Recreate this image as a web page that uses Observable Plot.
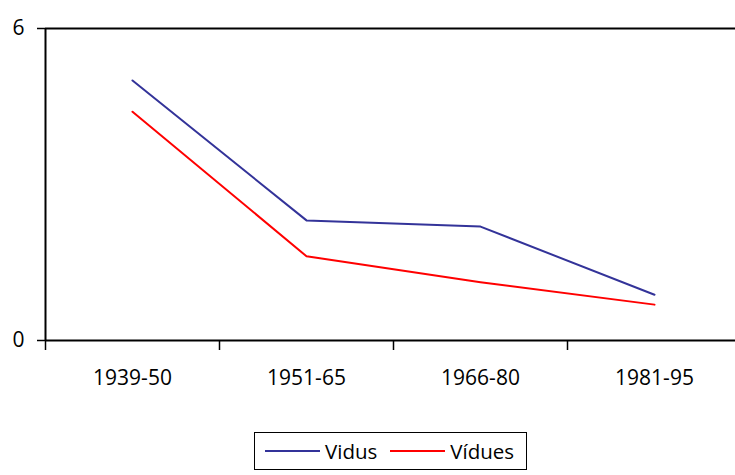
<!DOCTYPE html>
<html>
<head>
<meta charset="utf-8">
<script src="https://cdn.jsdelivr.net/npm/d3@7"></script>
<script src="https://cdn.jsdelivr.net/npm/@observablehq/plot@0.6"></script>
<style>
  html, body { margin: 0; padding: 0; background: #fff; }
  #chart { width: 735px; overflow: hidden; }
  .legend {
    position: absolute; left: 254px; top: 432px;
    width: 271px; height: 36px;
    border: 1.5px solid #000;
    font-family: "Open Sans", sans-serif; font-size: 20.5px;
    display: flex; align-items: center; box-sizing: content-box;
  }
  .legend .sw { display: inline-block; width: 55px; height: 2px; margin-left: 10px; margin-right: 5px; }
  .legend span.t { line-height: 1; }
</style>
</head>
<body>
<div id="chart"></div>
<div class="legend">
  <span class="sw" style="background:#333399"></span><span class="t">Vidus</span>
  <span class="sw" style="background:#ff0000;margin-left:13px"></span><span class="t">Vídues</span>
</div>
<script>
const periods = ["1939-50", "1951-65", "1966-80", "1981-95"];
const vidus = [5.0, 2.31, 2.19, 0.88];
const vidues = [4.40, 1.62, 1.12, 0.69];
const seriesNames = ["Vidus", "Vídues"];
const colors = ["#333399", "#ff0000"];

const rows = [];
periods.forEach((p, i) => {
  rows.push({ i: i + 0.5, v: vidus[i], s: seriesNames[0] });
});
periods.forEach((p, i) => {
  rows.push({ i: i + 0.5, v: vidues[i], s: seriesNames[1] });
});

const chart = Plot.plot({
  width: 735,
  height: 420,
  marginLeft: 45,
  marginTop: 28,
  marginBottom: 80,
  marginRight: 0,
  style: { fontFamily: "Open Sans, sans-serif", fontSize: "21px", overflow: "visible" },
  x: { type: "linear", domain: [0, periods.length], range: [45, 741] },
  y: { domain: [0, 6] },
  color: { domain: seriesNames, range: colors },
  marks: [
    Plot.ruleY([0, 6], { x1: 0, x2: periods.length, stroke: "#000", strokeWidth: 2 }),
    Plot.ruleX([0], { y1: 0, y2: 6, stroke: "#000", strokeWidth: 2 }),
    Plot.axisY({ ticks: [0, 6], tickSize: 8, tickPadding: 13, tickFormat: d3.format("d"), label: null, stroke: "#000", strokeWidth: 1.5, fontSize: 21 }),
    Plot.axisX({ ticks: d3.range(periods.length + 1), tickSize: 10, tickFormat: () => "", label: null, stroke: "#000", strokeWidth: 1.5 }),
    Plot.axisX({ ticks: periods.map((_, i) => i + 0.5), tickSize: 0, tickPadding: 30, tickFormat: v => periods[Math.round(v - 0.5)], label: null, fontSize: 21 }),
    Plot.line(rows, { x: "i", y: "v", z: "s", stroke: "s", strokeWidth: 2 })
  ]
});
document.getElementById("chart").append(chart);
</script>
</body>
</html>
